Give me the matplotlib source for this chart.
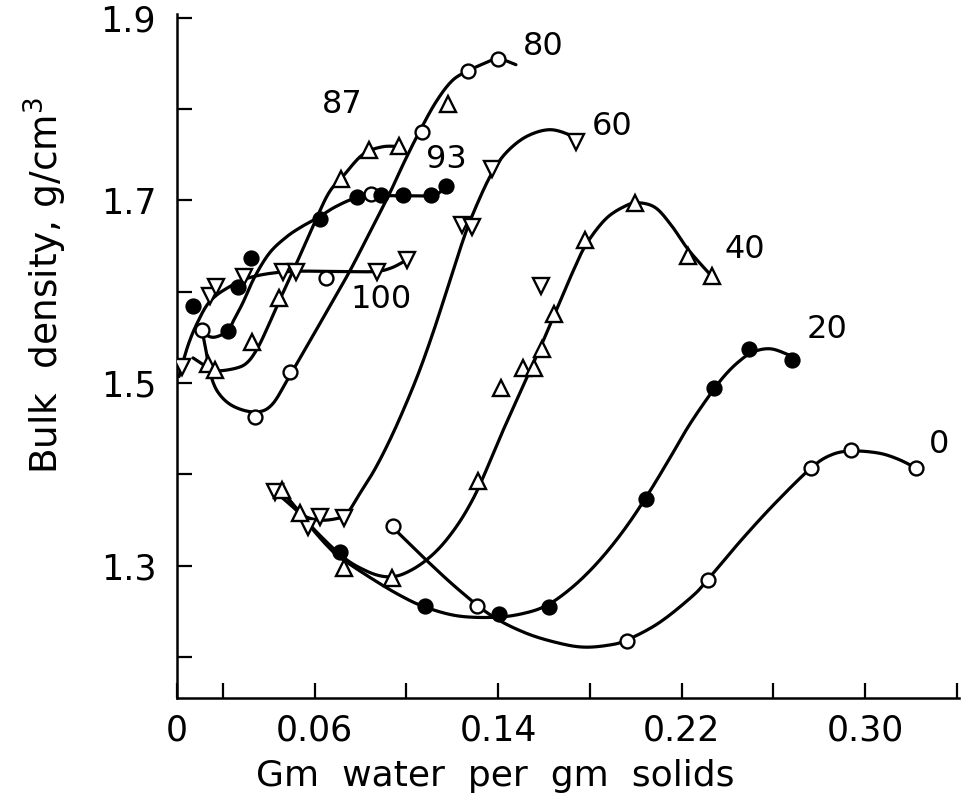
import numpy as np
import matplotlib
matplotlib.use("Agg")
import matplotlib.pyplot as plt

# ---------------- data ----------------
# measured points for each curve (x: gm water per gm solids, y: bulk density g/cm3)
s100_x = [0.0022, 0.0143, 0.0170, 0.0291, 0.0461, 0.0517, 0.0874, 0.1004]
s100_y = [1.518, 1.595, 1.605, 1.616, 1.622, 1.622, 1.621, 1.635]
s93_x = [0.0070, 0.0222, 0.0265, 0.0322, 0.0622, 0.0783, 0.0891, 0.0987, 0.1109, 0.1174]
s93_y = [1.584, 1.557, 1.605, 1.637, 1.679, 1.704, 1.706, 1.706, 1.706, 1.716]
s87_x = [0.0135, 0.0165, 0.0326, 0.0443, 0.0716, 0.0836, 0.0970, 0.1180]
s87_y = [1.521, 1.514, 1.545, 1.593, 1.723, 1.755, 1.759, 1.805]
s80_x = [0.0109, 0.0339, 0.0491, 0.0651, 0.0848, 0.1070, 0.1271, 0.1401]
s80_y = [1.558, 1.463, 1.512, 1.615, 1.707, 1.775, 1.842, 1.855]
s60_x = [0.0426, 0.0570, 0.0622, 0.0730, 0.1242, 0.1286, 0.1375, 0.1586, 0.1738]
s60_y = [1.381, 1.342, 1.353, 1.352, 1.673, 1.671, 1.734, 1.606, 1.764]
s40_x = [0.0457, 0.0535, 0.0730, 0.0939, 0.1314, 0.1412, 0.1510, 0.1557, 0.1590,
         0.1643, 0.1781, 0.1996, 0.2230, 0.2332]
s40_y = [1.383, 1.358, 1.297, 1.286, 1.393, 1.494, 1.516, 1.516, 1.537,
         1.576, 1.657, 1.697, 1.639, 1.617]
s20_x = [0.0709, 0.1083, 0.1404, 0.1622, 0.2045, 0.2343, 0.2494, 0.2680]
s20_y = [1.315, 1.256, 1.247, 1.255, 1.373, 1.495, 1.537, 1.525]
s0_x = [0.0941, 0.1310, 0.1962, 0.2314, 0.2764, 0.2938, 0.3223]
s0_y = [1.343, 1.256, 1.217, 1.284, 1.407, 1.427, 1.407]

# hand-drawn fitted curves (knots)
c100_x = [0.0009, 0.0026, 0.0052, 0.0087, 0.0139, 0.0213, 0.0326, 0.0491, 0.0709, 0.0861, 0.0935, 0.1004]
c100_y = [1.507, 1.523, 1.544, 1.565, 1.588, 1.603, 1.616, 1.622, 1.622, 1.622, 1.626, 1.635]
c93_x = [0.0109, 0.0135, 0.0170, 0.0222, 0.0248, 0.0287, 0.0339, 0.0404, 0.0478, 0.0543,
         0.0613, 0.0691, 0.0783, 0.0883, 0.1013, 0.1109, 0.1143, 0.1174]
c93_y = [1.558, 1.5515, 1.5504, 1.557, 1.569, 1.5877, 1.6162, 1.6425, 1.660, 1.671,
         1.6808, 1.6929, 1.7027, 1.7049, 1.7049, 1.7049, 1.7082, 1.7159]
c87_x = [0.0070, 0.0130, 0.0174, 0.0261, 0.0309, 0.0352, 0.0396, 0.0448, 0.0522, 0.0609,
         0.0665, 0.0722, 0.0809, 0.0896, 0.0983]
c87_y = [1.5274, 1.5175, 1.5132, 1.5164, 1.5230, 1.5384, 1.5614, 1.5910, 1.6315, 1.6808,
         1.7093, 1.7258, 1.7499, 1.7586, 1.7586]
c80_x = [0.0109, 0.0126, 0.0143, 0.0178, 0.0243, 0.0339, 0.0413, 0.0491, 0.0591, 0.0696,
         0.0761, 0.0839, 0.0926, 0.0991, 0.1057, 0.1130, 0.1200, 0.1270, 0.1348, 0.1400, 0.1478]
c80_y = [1.5581, 1.5362, 1.5121, 1.4901, 1.4748, 1.4682, 1.4759, 1.5077, 1.5510, 1.5970,
         1.6260, 1.6640, 1.7070, 1.7420, 1.7751, 1.8080, 1.8310, 1.8419, 1.8507, 1.8551, 1.8485]
c60_x = [0.0430, 0.0491, 0.0548, 0.0613, 0.0687, 0.0739, 0.0796, 0.0861, 0.0926, 0.0991,
         0.1057, 0.1122, 0.1187, 0.1257, 0.1317, 0.1374, 0.1435, 0.1522, 0.1622, 0.1709, 0.1739]
c60_y = [1.3806, 1.3674, 1.3553, 1.3499, 1.3510, 1.3564, 1.3784, 1.4047, 1.4364, 1.4726,
         1.5132, 1.5592, 1.6096, 1.6633, 1.7006, 1.7301, 1.7521, 1.7696, 1.7773, 1.7718, 1.7641]
c40_x = [0.0457, 0.0535, 0.0622, 0.0730, 0.0817, 0.0891, 0.0957, 0.1022, 0.1087, 0.1152,
         0.1217, 0.1274, 0.1326, 0.1417, 0.1535, 0.1591, 0.1643, 0.1722, 0.1783, 0.1870,
         0.1957, 0.2013, 0.2087, 0.2157, 0.2230, 0.2330]
c40_y = [1.3827, 1.3575, 1.3334, 1.3082, 1.2951, 1.2885, 1.2885, 1.2951, 1.3060, 1.3214,
         1.3422, 1.3652, 1.3915, 1.4452, 1.5110, 1.5427, 1.5734, 1.6195, 1.6512, 1.6797,
         1.6940, 1.6973, 1.6918, 1.6721, 1.6458, 1.6173]
c20_x = [0.0461, 0.0535, 0.0587, 0.0652, 0.0709, 0.0839, 0.0970, 0.1083, 0.1230, 0.1404,
         0.1535, 0.1622, 0.1709, 0.1796, 0.1883, 0.1970, 0.2057, 0.2143, 0.2230, 0.2317,
         0.2383, 0.2448, 0.2513, 0.2591, 0.2678]
c20_y = [1.3806, 1.3586, 1.3411, 1.3225, 1.3093, 1.2874, 1.2677, 1.2545, 1.2447, 1.2436,
         1.2491, 1.2578, 1.2732, 1.2932, 1.3176, 1.3463, 1.3794, 1.4151, 1.4524, 1.4847,
         1.5066, 1.5230, 1.5340, 1.5373, 1.5296]
c0_x = [0.0939, 0.1087, 0.1230, 0.1374, 0.1522, 0.1665, 0.1774, 0.1883, 0.1961, 0.2100,
        0.2243, 0.2313, 0.2461, 0.2609, 0.2765, 0.2852, 0.2939, 0.3057, 0.3143, 0.3222]
c0_y = [1.3422, 1.3060, 1.2732, 1.2447, 1.2260, 1.2151, 1.2107, 1.2129, 1.2184, 1.2370,
        1.2655, 1.2841, 1.3280, 1.3685, 1.4069, 1.4211, 1.4255, 1.4233, 1.4167, 1.4069]

curve_labels = ["100", "93", "87", "80", "60", "40", "20", "0"]
label_x = [0.0888, 0.1174, 0.0722, 0.1596, 0.1896, 0.2474, 0.2835, 0.3322]
label_y = [1.591, 1.745, 1.805, 1.868, 1.781, 1.646, 1.558, 1.433]

x_ticks = [0.0, 0.06, 0.14, 0.22, 0.30]
x_ticklabels = ["0", "0.06", "0.14", "0.22", "0.30"]
x_minor = [0.02, 0.10, 0.18, 0.26, 0.34]
y_ticks = [1.3, 1.5, 1.7, 1.9]
y_ticklabels = ["1.3", "1.5", "1.7", "1.9"]
y_minor = [1.2, 1.4, 1.6, 1.8]


def catmull_rom(xs, ys, n=16):
    P = np.column_stack([xs, ys]).astype(float)
    P = np.vstack([P[0], P, P[-1]])
    out = []
    t = np.linspace(0, 1, n, endpoint=False)[:, None]
    for i in range(1, len(P) - 2):
        p0, p1, p2, p3 = P[i - 1], P[i], P[i + 1], P[i + 2]
        seg = 0.5 * (2 * p1 + (-p0 + p2) * t + (2 * p0 - 5 * p1 + 4 * p2 - p3) * t ** 2
                     + (-p0 + 3 * p1 - 3 * p2 + p3) * t ** 3)
        out.append(seg)
    out.append(P[-2][None, :])
    out = np.vstack(out)
    return out[:, 0], out[:, 1]


plt.rcParams['font.family'] = ['DejaVu Sans']
fig = plt.figure(figsize=(9.62, 8.0), dpi=100)
ax = fig.add_axes([177 / 962, 1 - 698 / 800, (959 - 177) / 962, (698 - 14) / 800])

lw = 2.3
for cx, cy in [(c100_x, c100_y), (c93_x, c93_y), (c87_x, c87_y), (c80_x, c80_y),
               (c60_x, c60_y), (c40_x, c40_y), (c20_x, c20_y), (c0_x, c0_y)]:
    sx, sy = catmull_rom(cx, cy)
    ax.plot(sx, sy, color='black', lw=lw, solid_capstyle='round', zorder=2)

mk = dict(linestyle='none', markeredgecolor='black', markeredgewidth=1.7, zorder=3)
ax.plot(s100_x, s100_y, marker='v', markersize=11, markerfacecolor='white', **mk)
ax.plot(s60_x, s60_y, marker='v', markersize=11, markerfacecolor='white', **mk)
ax.plot(s87_x, s87_y, marker='^', markersize=11, markerfacecolor='white', **mk)
ax.plot(s40_x, s40_y, marker='^', markersize=11, markerfacecolor='white', **mk)
ax.plot(s80_x, s80_y, marker='o', markersize=10, markerfacecolor='white', **mk)
ax.plot(s0_x, s0_y, marker='o', markersize=10, markerfacecolor='white', **mk)
ax.plot(s93_x, s93_y, marker='o', markersize=10, markerfacecolor='black', **mk)
ax.plot(s20_x, s20_y, marker='o', markersize=10, markerfacecolor='black', **mk)

for lab, lx, ly in zip(curve_labels, label_x, label_y):
    ax.text(lx, ly, lab, fontsize=23, ha='center', va='center', color='black')

ax.set_xlim(0, 0.341)
ax.set_ylim(1.155, 1.904)
for side in ['top', 'right']:
    ax.spines[side].set_visible(False)
for side in ['left', 'bottom']:
    ax.spines[side].set_linewidth(1.8)

ax.set_xticks(x_ticks)
ax.set_xticklabels(x_ticklabels)
ax.set_xticks(x_minor, minor=True)
ax.set_yticks(y_ticks)
ax.set_yticklabels(y_ticklabels)
ax.set_yticks(y_minor, minor=True)
ax.tick_params(axis='both', which='both', direction='in', length=11, width=1.6,
               labelsize=25)
ax.tick_params(axis='y', pad=15)
ax.tick_params(axis='x', pad=11)

fig.text(495 / 962, 1 - 776 / 800, "Gm  water  per  gm  solids", fontsize=26,
         ha='center', va='center')
fig.text(45 / 962, 1 - 285 / 800, "Bulk  density, g/cm$^3$", fontsize=27,
         ha='center', va='center', rotation=90)

fig.savefig("out.png", dpi=100, facecolor='white')
